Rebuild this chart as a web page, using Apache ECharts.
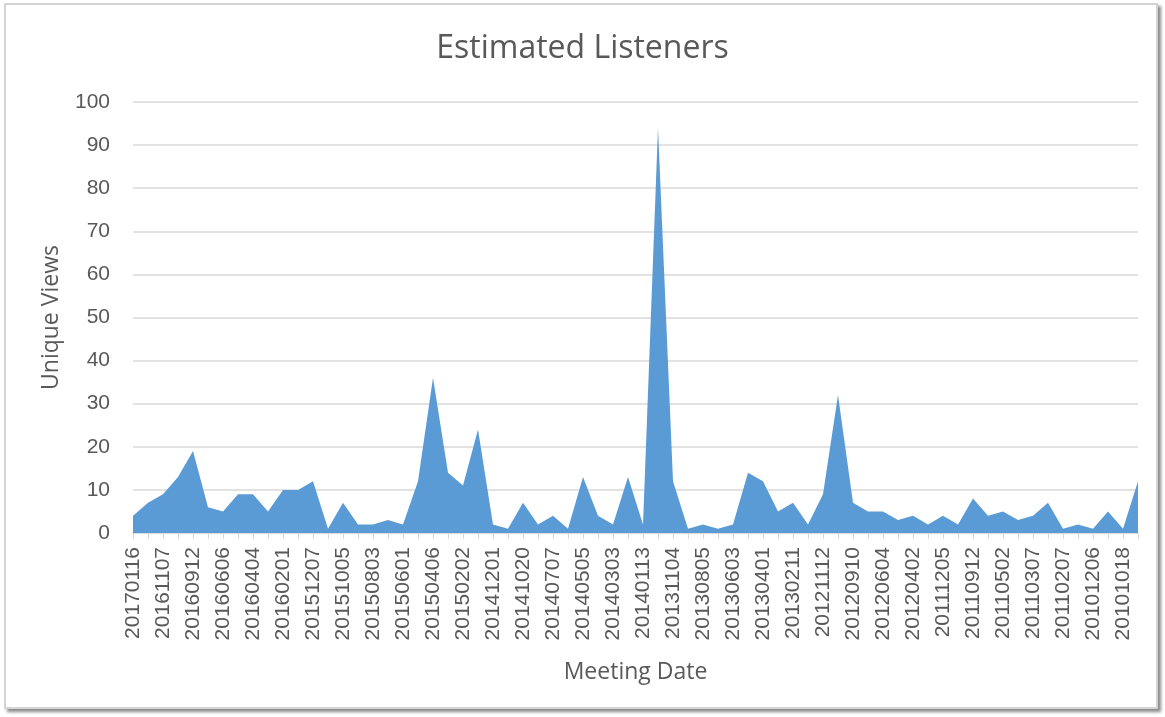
<!DOCTYPE html>
<html lang="en">
<head>
    <meta charset="UTF-8">
    <title>Estimated Listeners</title>
    <style>
        html, body {
            margin: 0;
            padding: 0;
            background: #fff;
        }
        #frame {
            position: absolute;
            left: 4px;
            top: 3px;
            width: 1150px;
            height: 702px;
            border: 2px solid #d4d4d4;
            box-shadow: 3px 3px 3px #8a8a8a;
        }
        #container {
            position: absolute;
            left: 0;
            top: 0;
            width: 1165px;
            height: 717px;
        }
    </style>
</head>
<body>
    <div id="frame"></div>
    <div id="container"></div>
    <script src="https://cdn.jsdelivr.net/npm/echarts@6/dist/echarts.min.js"></script>
    <script>
        // meeting dates, newest first (only every other one is labelled)
        var meetingDates = [
            '20170116', '20161205', '20161107', '20161003', '20160912', '20160711',
            '20160606', '20160502', '20160404', '20160307', '20160201', '20160104',
            '20151207', '20151102', '20151005', '20150914', '20150803', '20150706',
            '20150601', '20150504', '20150406', '20150302', '20150202', '20150105',
            '20141201', '20141103', '20141020', '20140908', '20140707', '20140602',
            '20140505', '20140407', '20140303', '20140203', '20140113', '20131202',
            '20131104', '20131007', '20130805', '20130708', '20130603', '20130506',
            '20130401', '20130304', '20130211', '20130107', '20121112', '20121008',
            '20120910', '20120709', '20120604', '20120507', '20120402', '20120206',
            '20111205', '20111017', '20110912', '20110711', '20110502', '20110404',
            '20110307', '20110221', '20110207', '20110110', '20101206', '20101108',
            '20101018', '20100920'
        ];

        var uniqueViews = [
            4, 7, 9, 13, 19, 6, 5, 9, 9, 5, 10, 10,
            12, 1, 7, 2, 2, 3, 2, 12, 36, 14, 11, 24,
            2, 1, 7, 2, 4, 1, 13, 4, 2, 13, 2, 94,
            12, 1, 2, 1, 2, 14, 12, 5, 7, 2, 9, 32,
            7, 5, 5, 3, 4, 2, 4, 2, 8, 4, 5, 3,
            4, 7, 1, 2, 1, 5, 1, 12
        ];

        var yTicks = { min: 0, max: 100, interval: 10 };

        var textColor = '#595959';
        var lineColor = '#d9d9d9';

        var ec = echarts.init(document.querySelector('#container'));

        var option = {
            backgroundColor: 'transparent',
            animation: false,
            title: {
                text: 'Estimated Listeners',
                left: 'center',
                top: 28,
                textStyle: {
                    fontFamily: 'Open Sans',
                    fontSize: 32,
                    fontWeight: 'normal',
                    color: textColor
                }
            },
            grid: {
                left: 133,
                right: 27,
                top: 102,
                bottom: 184
            },
            xAxis: {
                type: 'category',
                data: meetingDates,
                boundaryGap: false,
                name: 'Meeting Date',
                nameLocation: 'middle',
                nameGap: 128,
                nameTextStyle: {
                    fontFamily: 'Open Sans',
                    fontSize: 23,
                    color: textColor
                },
                axisLine: {
                    lineStyle: { color: lineColor, width: 1.5 }
                },
                axisTick: {
                    interval: 0,
                    length: 6,
                    lineStyle: { color: lineColor }
                },
                axisLabel: {
                    interval: 1,
                    rotate: 90,
                    margin: 14,
                    fontFamily: 'Liberation Sans',
                    fontSize: 21,
                    color: textColor
                }
            },
            yAxis: {
                type: 'value',
                min: yTicks.min,
                max: yTicks.max,
                interval: yTicks.interval,
                name: 'Unique Views',
                nameLocation: 'middle',
                nameGap: 70,
                nameTextStyle: {
                    fontFamily: 'Open Sans',
                    fontSize: 23,
                    color: textColor
                },
                axisLine: { show: false },
                axisTick: { show: false },
                axisLabel: {
                    margin: 23,
                    fontFamily: 'Liberation Sans',
                    fontSize: 21,
                    color: textColor
                },
                splitLine: {
                    lineStyle: { color: lineColor, width: 1.5 }
                }
            },
            series: [{
                type: 'line',
                data: uniqueViews,
                symbol: 'none',
                lineStyle: { width: 0 },
                areaStyle: {
                    color: '#5b9bd5',
                    opacity: 1
                }
            }]
        };

        ec.setOption(option);
    </script>
</body>
</html>
